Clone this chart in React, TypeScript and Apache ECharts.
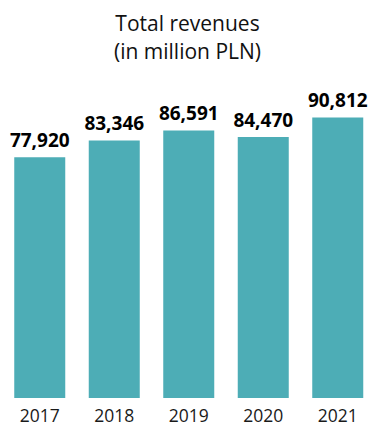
import React, { useEffect, useRef } from "react";
import * as echarts from "echarts";

const categories = ["2017", "2018", "2019", "2020", "2021"];
const revenues = [77920, 83346, 86591, 84470, 90812];
const titleLines = ["Total revenues", "(in million PLN)"];

export default function App() {
  const ref = useRef<HTMLDivElement>(null);
  useEffect(() => {
    if (!ref.current) return;
    const chart = echarts.init(ref.current, null, { renderer: "svg" });
    chart.setOption({
      animation: false,
      title: {
        text: titleLines.join("\n"),
        left: "center",
        top: 9,
        padding: 0,
        textStyle: {
          fontFamily: "Open Sans",
          fontWeight: "normal",
          fontSize: 21,
          lineHeight: 28,
          color: "#111",
        },
      },
      grid: { left: 2.5, width: 375, top: 89, bottom: 29, containLabel: false },
      xAxis: {
        type: "category",
        data: categories,
        axisLine: { show: false },
        axisTick: { show: false },
        axisLabel: {
          fontFamily: "Open Sans",
          fontSize: 17.5,
          lineHeight: 14,
          color: "#1a1a1a",
          margin: 10,
        },
      },
      yAxis: {
        type: "value",
        min: 0,
        max: 100000,
        show: false,
        splitLine: { show: false },
      },
      series: [
        {
          type: "bar",
          data: revenues,
          barWidth: 51,
          itemStyle: { color: "#4DADB6" },
          label: {
            show: true,
            position: "top",
            distance: 7,
            fontFamily: "Open Sans",
            fontWeight: "bold",
            fontSize: 19,
            lineHeight: 20,
            color: "#000",
            formatter: (p: any) => p.value.toLocaleString("en-US"),
          },
        },
      ],
    });
    return () => chart.dispose();
  }, []);
  return (
    <div
      ref={ref}
      style={{ position: "absolute", left: 0, top: 0, width: 375, height: 427 }}
    />
  );
}
